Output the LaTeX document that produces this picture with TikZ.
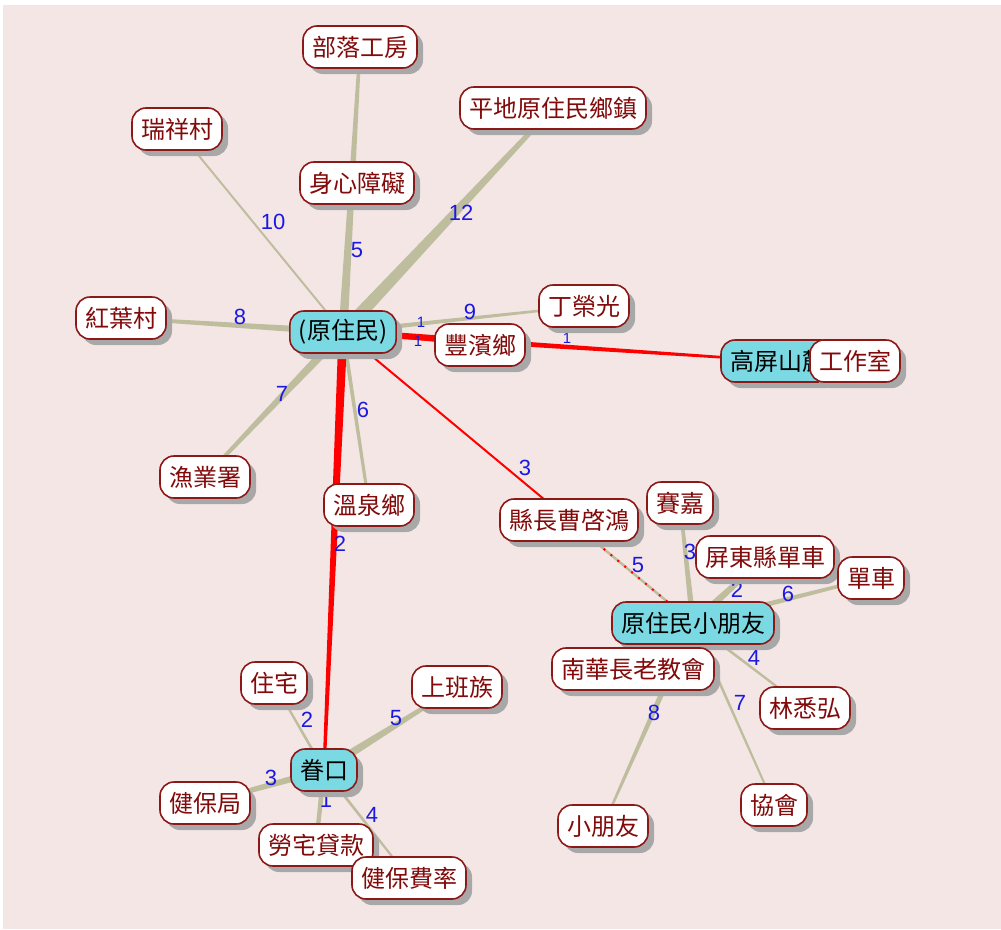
\documentclass[tikz,border=0pt]{standalone}
\usepackage{fontspec}
\setmainfont{Liberation Sans}
\newfontfamily\cjk{Noto Sans CJK TC}
\usetikzlibrary{calc,shadows}
\definecolor{bgpink}{RGB}{245,230,230}
\definecolor{olivec}{RGB}{190,190,158}
\definecolor{nodeborder}{RGB}{140,24,24}
\definecolor{nodetext}{RGB}{130,10,10}
\definecolor{cyanfill}{RGB}{122,217,226}
\definecolor{shadowgray}{RGB}{168,168,168}
\definecolor{labblue}{RGB}{25,25,225}
\pgfdeclarelayer{bg}
\pgfdeclarelayer{edges}
\pgfsetlayers{bg,edges,main}
\newcommand\edgetaper[5]{%
  \fill[#5] ($(#1.center)!#3!90:(#2.center)$) -- ($(#2.center)!#4!-90:(#1.center)$)
    -- ($(#2.center)!#4!90:(#1.center)$) -- ($(#1.center)!#3!-90:(#2.center)$) -- cycle;}
\begin{document}
\begin{tikzpicture}[x=1pt,y=-1pt,
  box/.style={draw=nodeborder, line width=1.6pt, fill=white, text=nodetext,
    rounded corners=14pt, minimum height=42pt, inner xsep=9pt, inner ysep=0pt,
    font=\cjk\fontsize{24}{24}\selectfont,
    drop shadow={shadow xshift=6pt, shadow yshift=-6pt, fill=shadowgray, opacity=1}},
  cbox/.style={box, fill=cyanfill, text=black},
  lab/.style={text=labblue, font=\fontsize{22}{22}\selectfont, inner sep=0pt}]
\useasboundingbox (0,0) rectangle (1001,929);
\begin{pgfonlayer}{bg}
\fill[bgpink] (3,5) rectangle (1001,929);
\end{pgfonlayer}

% nodes
\node[box] (buluo) at (360,47) {部落工房};
\node[box] (ruixiang) at (177,129) {瑞祥村};
\node[box] (pingdi) at (553,108) {平地原住民鄉鎮};
\node[box] (shenxin) at (357,183) {身心障礙};
\node[box] (hongye) at (121,318) {紅葉村};
\node[cbox] (P) at (343,332) {(原住民)};
\node[box] (ding) at (584,306) {丁榮光};
\node[box] (fengbin) at (480,345) {豐濱鄉};
\node[cbox] (gaoping) at (778,361) {高屏山麓};
\node[box] (gongzuo) at (855,361) {工作室};
\node[box] (yuye) at (205,477) {漁業署};
\node[box] (wenquan) at (369,505) {溫泉鄉};
\node[box] (xianzhang) at (569,520) {縣長曹啓鴻};
\node[box] (saijia) at (680,503) {賽嘉};
\node[cbox] (K) at (693,623) {原住民小朋友};
\node[box] (nanhua) at (633,669) {南華長老教會};
\node[box] (pingdong) at (765,557) {屏東縣單車};
\node[box] (danche) at (871,578) {單車};
\node[box] (lin) at (805,708) {林悉弘};
\node[box] (xiehui) at (774,805) {協會};
\node[box] (xiaopy) at (603,826) {小朋友};
\node[box] (zhuzhai) at (274,683) {住宅};
\node[box] (shangban) at (457,687) {上班族};
\node[cbox] (J) at (324,770) {眷口};
\node[box] (jianbaoju) at (205,803) {健保局};
\node[box] (laozhai) at (316,845) {勞宅貸款};
\node[box] (feilv) at (409,878) {健保費率};

\begin{pgfonlayer}{edges}
% edges from (原住民)
\edgetaper{P}{ruixiang}{1pt}{1pt}{olivec}
\edgetaper{P}{buluo}{4.5pt}{1.5pt}{olivec}
\edgetaper{P}{pingdi}{6.5pt}{2pt}{olivec}
\edgetaper{P}{hongye}{3.5pt}{1.5pt}{olivec}
\edgetaper{P}{yuye}{4.5pt}{1.5pt}{olivec}
\edgetaper{P}{wenquan}{2pt}{1.5pt}{olivec}
\edgetaper{P}{ding}{2.5pt}{1pt}{olivec}
\edgetaper{P}{J}{4.5pt}{1.5pt}{red}
\edgetaper{P}{gaoping}{3.5pt}{1pt}{red}
\edgetaper{P}{fengbin}{1pt}{1pt}{red}
\edgetaper{P}{xianzhang}{1pt}{1pt}{red}
% 縣長 -> 原住民小朋友
\draw[olivec, line width=2.5pt] (xianzhang.center) -- (K.center);
\draw[red, line width=2pt, dash pattern=on 2pt off 7pt] (xianzhang.center) -- (K.center);
% edges from 原住民小朋友
\edgetaper{K}{saijia}{3pt}{1.5pt}{olivec}
\edgetaper{K}{pingdong}{4pt}{2pt}{olivec}
\edgetaper{K}{danche}{3pt}{1.5pt}{olivec}
\edgetaper{K}{lin}{1.5pt}{1pt}{olivec}
\edgetaper{K}{xiehui}{1.5pt}{1pt}{olivec}
\edgetaper{K}{xiaopy}{3.5pt}{1pt}{olivec}
% edges from 眷口
\edgetaper{J}{zhuzhai}{1.5pt}{1pt}{olivec}
\edgetaper{J}{shangban}{4.5pt}{1.5pt}{olivec}
\edgetaper{J}{jianbaoju}{3.5pt}{2pt}{olivec}
\edgetaper{J}{laozhai}{2.5pt}{2pt}{olivec}
\edgetaper{J}{feilv}{1.5pt}{1pt}{olivec}
% labels
\node[lab] (l1) at (273,222) {10};
\node[lab] (l2) at (357,250) {5};
\node[lab] (l3) at (461,213) {12};
\node[lab] (l4) at (240,317) {8};
\node[lab] (l5) at (282,394) {7};
\node[lab] (l6) at (363,410) {6};
\node[lab] (l7) at (470,312) {9};
\node[lab, font=\fontsize{15}{15}\selectfont] (l8) at (421,322) {1};
\node[lab, font=\fontsize{15}{15}\selectfont] (l9) at (418,341) {1};
\node[lab] (l10) at (340,544) {2};
\node[lab] (l11) at (525,468) {3};
\node[lab, font=\fontsize{15}{15}\selectfont] (l12) at (567,338) {1};
\node[lab] (l13) at (638,565) {5};
\node[lab] (l14) at (690,552) {3};
\node[lab] (l15) at (737,590) {2};
\node[lab] (l16) at (788,594) {6};
\node[lab] (l17) at (754,658) {4};
\node[lab] (l18) at (740,703) {7};
\node[lab] (l19) at (654,713) {8};
\node[lab] (l20) at (307,720) {2};
\node[lab] (l21) at (396,718) {5};
\node[lab] (l22) at (271,778) {3};
\node[lab] (l23) at (326,800) {1};
\node[lab] (l24) at (372,815) {4};
\end{pgfonlayer}
\end{tikzpicture}
\end{document}
